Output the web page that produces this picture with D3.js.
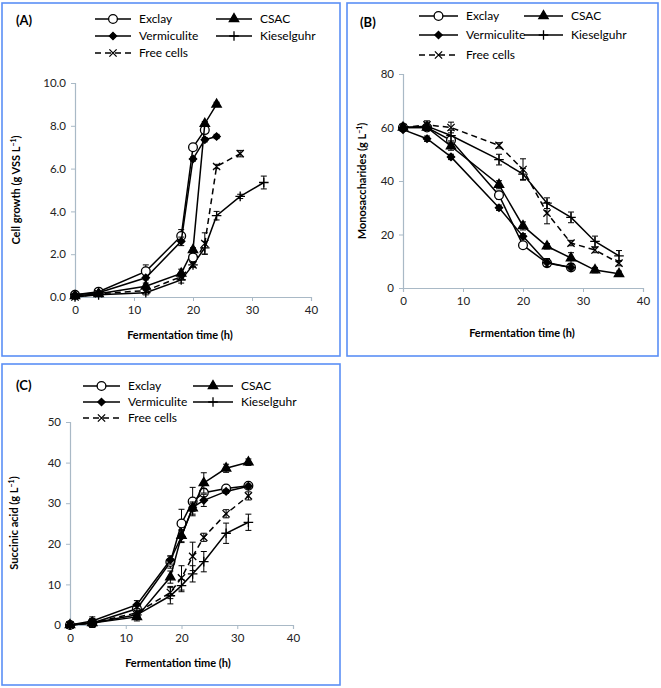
<!DOCTYPE html>
<html>
<head>
<meta charset="utf-8">
<script src="https://cdn.jsdelivr.net/npm/d3@7"></script>
<style>
  body { margin: 0; background: #fff; }
  svg { display: block; font-family: Lato, "Open Sans", sans-serif; }
</style>
</head>
<body>
<svg id="chart" width="661" height="688"></svg>
<script>
// ---- data ----
const seriesNames = ["Exclay", "CSAC", "Vermiculite", "Kieselguhr", "Free cells"];

// (A) cell growth, g VSS/L
const timeA = [0, 4, 12, 18, 20, 22, 24, 28, 32];
const growthExclay = [0.1, 0.25, 1.2, 2.85, 7.0, 7.8];
const growthCSAC = [0.05, 0.15, 0.5, 1.1, 2.2, 8.1, 9.0];
const growthVermiculite = [0.1, 0.2, 0.9, 2.6, 6.45, 7.35, 7.5];
const growthKieselguhr = [0, 0.1, 0.2, 0.8, 1.5, 2.3, 3.8, 4.7, 5.35];
const growthFree = [0, 0.15, 0.3, 0.95, 1.5, 2.5, 6.1, 6.7];
const growthExclayErr = [0.05, 0.1, 0.3, 0.3, 0.1, 0.1];
const growthCSACErr = [0.05, 0.05, 0.15, 0.2, 0.1, 0.1, 0.1];
const growthVermiculiteErr = [0.05, 0.05, 0.1, 0.2, 0.1, 0.1, 0.1];
const growthKieselguhrErr = [0, 0.05, 0.1, 0.15, 0.1, 0.3, 0.2, 0.1, 0.3];
const growthFreeErr = [0, 0.05, 0.1, 0.15, 0.1, 0.5, 0.1, 0.15];
const growthExtraTime = [20];
const growthExtraExclay = [1.85];

// (B) monosaccharides, g/L
const timeB = [0, 4, 8, 16, 20, 24, 28, 32, 36];
const monoExclay = [60, 60, 55.2, 34.7, 16, 9.3, 7.7];
const monoCSAC = [60, 60, 53, 38.6, 23.2, 15.6, 11.2, 6.7, 5.3];
const monoVermiculite = [59.2, 55.8, 49, 30, 19.3, 9.5, 7.7];
const monoKieselguhr = [60, 60.5, 57, 48, 42.6, 31.7, 26.4, 17.4, 12];
const monoFree = [60, 61, 60, 53.3, 44.3, 28, 16.8, 14.2, 9.3];
const monoExclayErr = [0.5, 1, 1.5, 1.5, 1, 1, 1];
const monoCSACErr = [0.5, 1, 1.5, 1.5, 1.5, 1, 2, 1, 1];
const monoVermiculiteErr = [0.5, 1, 1, 1, 1, 1.5, 1];
const monoKieselguhrErr = [0.5, 1.5, 2, 2, 2, 2, 2, 2, 2];
const monoFreeErr = [0.5, 1.5, 2, 1, 4, 4, 1, 1, 1];

// (C) succinic acid, g/L
const timeC = [0, 4, 12, 18, 20, 22, 24, 28, 32];
const succExclay = [0, 0.5, 4, 15.5, 25, 30.4, 32.6, 33.6, 34.3];
const succCSAC = [0, 0.5, 2, 11.8, 22, 28.8, 35, 38.6, 40.1];
const succVermiculite = [0, 1, 5, 16, 21.8, 29, 30.7, 32.9, 34.2];
const succKieselguhr = [0, 0.5, 2.5, 7.2, 9.7, 12.6, 15.6, 22.6, 25.3];
const succFree = [0, 0.5, 3, 8, 11.6, 16.9, 21.6, 27.4, 31.8];
const succExclayErr = [0.5, 1, 1, 1.5, 3.5, 3.5, 1, 0.5, 0.5];
const succCSACErr = [0.5, 1, 1, 1.5, 1.5, 1.5, 2.5, 1, 0.8];
const succVermiculiteErr = [0.5, 1, 1, 1, 1.5, 1, 1.5, 0.5, 0.5];
const succKieselguhrErr = [0.5, 1, 1, 2, 1.5, 2, 2.5, 2.5, 2];
const succFreeErr = [0.5, 1, 1, 1.5, 3, 3.5, 1, 1, 1];

const xTicks = [0, 10, 20, 30, 40];

// ---- drawing ----
const svg = d3.select("#chart");
const axisColor = "#a9b9c6";
const boxColor = "#5b8ff5";

const styles = {
  "Exclay": { type: d3.symbolCircle, size: 60, fill: "#fff", dash: null },
  "CSAC": { type: d3.symbolTriangle, size: 38, fill: "#000", dash: null },
  "Vermiculite": { type: d3.symbolDiamond2, size: 34, fill: "#000", dash: null },
  "Kieselguhr": { type: d3.symbolPlus, size: 32, fill: "none", dash: null },
  "Free cells": { type: d3.symbolX, size: 36, fill: "none", dash: "6,4" }
};

function marker(g, name, cx, cy) {
  const s = styles[name];
  g.append("path")
    .attr("d", d3.symbol().type(s.type).size(s.size)())
    .attr("transform", `translate(${cx},${cy})`)
    .attr("fill", s.fill)
    .attr("stroke", "#000")
    .attr("stroke-width", 1.3);
}

function drawPanel(p) {
  const g = svg.append("g");

  // frame
  g.append("rect")
    .attr("x", p.box[0]).attr("y", p.box[1])
    .attr("width", p.box[2] - p.box[0]).attr("height", p.box[3] - p.box[1])
    .attr("fill", "none").attr("stroke", boxColor).attr("stroke-width", 1.6);

  const x = d3.scaleLinear().domain([0, 40]).range([p.x0, p.x1]);
  const y = d3.scaleLinear().domain([0, p.ymax]).range([p.y0, p.y1]);

  const ax = g.append("g").attr("transform", `translate(0,${p.y0})`)
    .call(d3.axisBottom(x).tickValues(xTicks).tickSize(4).tickPadding(5));
  const ay = g.append("g").attr("transform", `translate(${p.x0},0)`)
    .call(d3.axisLeft(y).tickValues(p.yTicks).tickFormat(p.fmt).tickSize(4).tickPadding(5));
  [ax, ay].forEach(a => {
    a.select(".domain").attr("stroke", axisColor).attr("stroke-width", 1.2);
    a.selectAll(".tick line").attr("stroke", axisColor);
    a.selectAll(".tick text").attr("font-size", 11.5).attr("fill", "#222")
      .attr("font-family", "Lato, sans-serif");
  });

  // series
  p.series.forEach(sr => {
    const pts = sr.values.map((v, i) => ({ t: p.times[i], v: v, e: sr.err[i] }));
    const s = styles[sr.name];
    g.append("path")
      .datum(pts)
      .attr("d", d3.line().x(d => x(d.t)).y(d => y(d.v)))
      .attr("fill", "none").attr("stroke", "#000").attr("stroke-width", 1.5)
      .attr("stroke-dasharray", s.dash);
    const eb = g.append("g");
    pts.filter(d => d.e > 0).forEach(d => {
      eb.append("line")
        .attr("x1", x(d.t)).attr("x2", x(d.t))
        .attr("y1", y(d.v - d.e)).attr("y2", y(d.v + d.e))
        .attr("stroke", "#000").attr("stroke-width", 1);
      [d.v - d.e, d.v + d.e].forEach(vv => {
        eb.append("line")
          .attr("x1", x(d.t) - 3).attr("x2", x(d.t) + 3)
          .attr("y1", y(vv)).attr("y2", y(vv))
          .attr("stroke", "#000").attr("stroke-width", 1);
      });
    });
    pts.forEach(d => marker(g, sr.name, x(d.t), y(d.v)));
  });

  (p.extra || []).forEach(ex => {
    ex.values.forEach((v, i) => marker(g, ex.name, x(ex.times[i]), y(v)));
  });

  // panel letter
  g.append("text")
    .attr("x", p.letter[0]).attr("y", p.letter[1])
    .attr("font-size", 13).attr("font-weight", "bold")
    .text(p.label);

  // legend
  const cols = p.legend.cols, rows = p.legend.rows;
  seriesNames.forEach((name, i) => {
    const c = cols[i % 2], ry = rows[Math.floor(i / 2)];
    const s = styles[name];
    g.append("line")
      .attr("x1", c[0]).attr("x2", c[1]).attr("y1", ry).attr("y2", ry)
      .attr("stroke", "#000").attr("stroke-width", 1.5)
      .attr("stroke-dasharray", s.dash);
    marker(g, name, (c[0] + c[1]) / 2, ry);
    g.append("text")
      .attr("x", c[1] + 8).attr("y", ry)
      .attr("dy", "0.35em")
      .attr("font-size", 12)
      .text(name);
  });

  // axis titles
  g.append("text")
    .attr("x", p.xTitle[0]).attr("y", p.xTitle[1])
    .attr("text-anchor", "middle")
    .attr("font-size", 11).attr("font-weight", "bold")
    .text("Fermentation time (h)");

  const yt = g.append("text")
    .attr("transform", `translate(${p.yTitle[0]},${p.yTitle[1]}) rotate(-90)`)
    .attr("text-anchor", "middle")
    .attr("font-size", 11).attr("font-weight", "bold")
    .text(p.yLabel);
  yt.append("tspan").attr("baseline-shift", "super").attr("font-size", 7).text("\u22121");
  yt.append("tspan").text(")");
}

drawPanel({
  label: "(A)", letter: [16, 25],
  box: [2, 3, 340, 356],
  x0: 75, x1: 311, y0: 297, y1: 83, ymax: 10,
  yTicks: [0, 2, 4, 6, 8, 10], fmt: d3.format(".1f"),
  times: timeA,
  series: [
    { name: "Exclay", values: growthExclay, err: growthExclayErr },
    { name: "CSAC", values: growthCSAC, err: growthCSACErr },
    { name: "Vermiculite", values: growthVermiculite, err: growthVermiculiteErr },
    { name: "Kieselguhr", values: growthKieselguhr, err: growthKieselguhrErr },
    { name: "Free cells", values: growthFree, err: growthFreeErr }
  ],
  extra: [{ name: "Exclay", times: growthExtraTime, values: growthExtraExclay }],
  legend: { cols: [[95, 131], [216, 252]], rows: [19, 36, 53] },
  xTitle: [180, 339], yTitle: [20, 190], yLabel: "Cell growth (g VSS L"
});

drawPanel({
  label: "(B)", letter: [360, 27],
  box: [347, 3, 658, 356],
  x0: 403, x1: 643, y0: 288, y1: 74, ymax: 80,
  yTicks: [0, 20, 40, 60, 80], fmt: d3.format("d"),
  times: timeB,
  series: [
    { name: "Exclay", values: monoExclay, err: monoExclayErr },
    { name: "CSAC", values: monoCSAC, err: monoCSACErr },
    { name: "Vermiculite", values: monoVermiculite, err: monoVermiculiteErr },
    { name: "Kieselguhr", values: monoKieselguhr, err: monoKieselguhrErr },
    { name: "Free cells", values: monoFree, err: monoFreeErr }
  ],
  legend: { cols: [[419, 458], [524, 563]], rows: [16, 35, 55] },
  xTitle: [522, 337], yTitle: [366, 181], yLabel: "Monosaccharides (g L"
});

drawPanel({
  label: "(C)", letter: [16, 390],
  box: [2, 364, 340, 685],
  x0: 70, x1: 293, y0: 625, y1: 422, ymax: 50,
  yTicks: [0, 10, 20, 30, 40, 50], fmt: d3.format("d"),
  times: timeC,
  series: [
    { name: "Exclay", values: succExclay, err: succExclayErr },
    { name: "CSAC", values: succCSAC, err: succCSACErr },
    { name: "Vermiculite", values: succVermiculite, err: succVermiculiteErr },
    { name: "Kieselguhr", values: succKieselguhr, err: succKieselguhrErr },
    { name: "Free cells", values: succFree, err: succFreeErr }
  ],
  legend: { cols: [[83, 120], [193, 233]], rows: [386, 402, 418] },
  xTitle: [178, 667], yTitle: [18, 523], yLabel: "Succinic acid (g L"
});
</script>
</body>
</html>
